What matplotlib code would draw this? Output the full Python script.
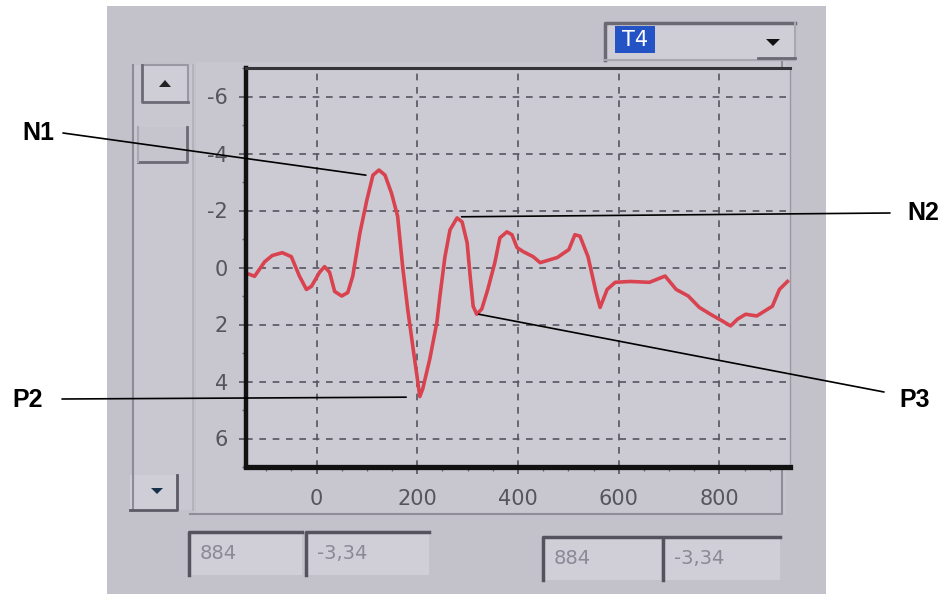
import matplotlib
matplotlib.use("Agg")
import matplotlib.pyplot as plt
from matplotlib.patches import Rectangle, Polygon
import numpy as np

# ---------------- data ----------------
time_ms = [-133, -123, -103, -88, -68, -50, -34, -20, -10, 6, 16, 26, 36, 50, 62, 72,
           86, 100, 112, 124, 136, 149, 161, 171, 181, 191, 201, 205, 211, 225, 239,
           245, 255, 265, 279, 289, 299, 305, 311, 318, 328, 340, 354, 364, 378, 388,
           398, 410, 430, 444, 478, 501, 513, 523, 539, 555, 563, 577, 593, 623, 661,
           692, 714, 738, 760, 782, 806, 822, 836, 852, 874, 905, 919, 935]
amp_uv = [0.24, 0.31, -0.20, -0.42, -0.52, -0.38, 0.30, 0.77, 0.66, 0.17, -0.03, 0.17,
          0.84, 1.00, 0.88, 0.30, -1.20, -2.37, -3.24, -3.42, -3.24, -2.60, -1.80, -0.03,
          1.46, 2.75, 4.00, 4.53, 4.25, 3.20, 1.92, 1.00, -0.38, -1.32, -1.74, -1.60,
          -0.87, 0.30, 1.36, 1.64, 1.46, 0.77, -0.17, -1.04, -1.25, -1.15, -0.70, -0.56,
          -0.38, -0.17, -0.35, -0.63, -1.15, -1.10, -0.38, 0.87, 1.40, 0.77, 0.52, 0.49,
          0.52, 0.30, 0.77, 1.00, 1.40, 1.64, 1.88, 2.05, 1.81, 1.64, 1.70, 1.36, 0.77, 0.49]

x_ticks = [0, 200, 400, 600, 800]
y_ticks = [-6, -4, -2, 0, 2, 4, 6]

# component labels: (label, data point the leader line ends at, label position in fig px)
comp_labels = ["N1", "N2", "P2", "P3"]
comp_xy = [(98, -3.24), (288, -1.78), (178, 4.55), (322, 1.64)]
line_start_px = [(63, 597 - 133), (890, 597 - 213), (62, 597 - 399), (884, 597 - 392)]
label_px = [(38, 597 - 133), (923, 597 - 213), (28, 597 - 400), (915, 597 - 400)]

readout_x = "884"
readout_y = "-3,34"
channel = "T4"

plt.rcParams['axes.unicode_minus'] = False

W, H = 945, 597
fig = plt.figure(figsize=(W / 100, H / 100), dpi=100, facecolor="white")

# background overlay axes in pixel coordinates
bg = fig.add_axes([0, 0, 1, 1], zorder=0)
bg.set_xlim(0, W)
bg.set_ylim(H, 0)
bg.axis("off")

panel = "#c3c2cb"
light = "#cfced7"
mid = "#8d8c96"

bg.add_patch(Rectangle((107, 6), 719, 588, facecolor=panel, edgecolor="none"))

# scrollbar
bg.add_patch(Rectangle((133, 65), 60, 445, facecolor="#c9c8d1", edgecolor="none"))
bg.plot([133, 133], [65, 510], color=mid, lw=1.5)
bg.plot([193, 193], [65, 510], color="#b0afb8", lw=1.2)
# up button
bg.add_patch(Rectangle((142, 65), 46, 37, facecolor=light, edgecolor="none"))
bg.plot([142, 188, 188], [65, 65, 102], color="#9a99a3", lw=1.5)
bg.plot([142, 142, 188], [65, 102, 102], color="#6c6b75", lw=2)
bg.add_patch(Polygon([[159, 87], [171, 87], [165, 80]], closed=True, facecolor="#222222"))
# thumb
bg.add_patch(Rectangle((138, 127), 49, 35, facecolor="#c6c5ce", edgecolor="none"))
bg.plot([138, 187, 187], [162, 162, 127], color="#6c6b75", lw=2)
bg.plot([138, 138], [127, 162], color="#a9a8b1", lw=1.5)
# down button
bg.add_patch(Rectangle((130, 475), 47, 35, facecolor=light, edgecolor="none"))
bg.plot([130, 177, 177], [510, 510, 475], color="#5c5b65", lw=2)
bg.add_patch(Polygon([[151, 488], [163, 488], [157, 494]], closed=True, facecolor="#15324a"))

# chart frame
bg.add_patch(Rectangle((196, 62), 590, 452, facecolor="#c8c7d0", edgecolor="none"))
bg.plot([190, 782, 782], [514, 514, 62], color="#8f8e98", lw=1.5)

# dropdown
bg.add_patch(Rectangle((605, 23), 190, 37, facecolor="#cfced7", edgecolor="none"))
bg.plot([605, 605, 795], [60, 23, 23], color="#6a6974", lw=2.5)
bg.plot([605, 795, 795], [60, 60, 23], color="#a9a8b1", lw=1.5)
bg.plot([758, 795], [58, 58], color="#6a6974", lw=2)
bg.add_patch(Rectangle((615, 26), 40, 27, facecolor="#2453c6", edgecolor="none"))
bg.text(635, 40, channel, color="white", fontsize=15, ha="center", va="center",
        family="DejaVu Sans")
bg.add_patch(Polygon([[766, 39], [780, 39], [773, 46]], closed=True, facecolor="#111111"))

# readout boxes
boxes = [(189, 532, 113, 43, readout_x), (306, 532, 123, 43, readout_y),
         (543, 537, 118, 43, readout_x), (663, 537, 117, 43, readout_y)]
for (bx, by, bw, bh, txt) in boxes:
    bg.add_patch(Rectangle((bx, by), bw, bh, facecolor="#d0cfd8", edgecolor="none"))
    bg.plot([bx, bx, bx + bw], [by + bh, by, by], color="#55545e", lw=2.5)
    bg.text(bx + 11, by + bh / 2, txt, color="#8a8995", fontsize=14, ha="left",
            va="center", family="DejaVu Sans")

# ---------------- main plot ----------------
ax = fig.add_axes([246 / W, 1 - 467 / H, (790 - 246) / W, (467 - 68) / H], zorder=2)
ax.set_facecolor("#cccbd4")
ax.plot(time_ms, amp_uv, color="#d9434f", lw=2.6, solid_joinstyle="round")
ax.set_xlim(-140, 940)
ax.set_ylim(7, -7)
ax.set_xticks(x_ticks)
ax.set_yticks(y_ticks)
ax.set_xticks(np.arange(-100, 950, 50), minor=True)
ax.set_yticks(np.arange(-7, 7.5, 1), minor=True)
ax.grid(True, which="major", color="#55555f", lw=1.2, linestyle=(0, (4, 4)))
ax.tick_params(axis="both", which="major", labelsize=15, labelcolor="#55555d",
               color="#555560", length=5, width=1.2)
ax.tick_params(axis="x", which="major", pad=11)
ax.tick_params(axis="y", which="major", pad=8)
ax.tick_params(axis="both", which="minor", color="#6a6a74", length=3, width=1)
ax.spines["left"].set_linewidth(3.2)
ax.spines["left"].set_color("#111111")
ax.spines["bottom"].set_linewidth(3.8)
ax.spines["bottom"].set_color("#111111")
ax.spines["top"].set_linewidth(2.2)
ax.spines["top"].set_color("#333338")
ax.spines["right"].set_linewidth(1)
ax.spines["right"].set_color("#9a99a3")

# leader lines + labels
for lab, xy, sp, lp in zip(comp_labels, comp_xy, line_start_px, label_px):
    ax.annotate("", xy=xy, xycoords="data", xytext=sp, textcoords="figure pixels",
                arrowprops=dict(arrowstyle="-", lw=1.2, color="black",
                                shrinkA=0, shrinkB=0),
                annotation_clip=False)
    fig.text(lp[0] / W, lp[1] / H, lab, fontsize=18, fontweight="bold",
             family="Liberation Sans", ha="center", va="center", color="black")

fig.savefig("out.png", dpi=100, facecolor="white")
